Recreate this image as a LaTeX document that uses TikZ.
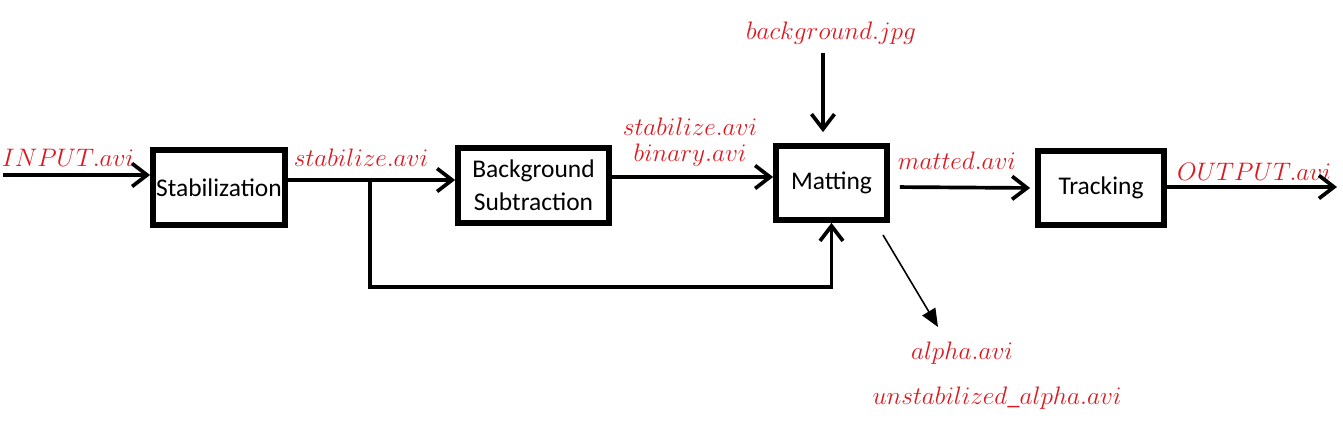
\documentclass[tikz,border=0pt]{standalone}
\usepackage{fontspec}
\setmainfont{Carlito}
\usepackage{xcolor}
\usepackage{tikz}
\usetikzlibrary{arrows.meta,positioning,calc}
\definecolor{lblred}{RGB}{222,24,32}

\begin{document}
\begin{tikzpicture}[x=0.02cm,y=-0.02cm,>={Straight Barb[length=0.3cm,width=0.46cm]},
			line width=2.1pt]
			\tikzstyle{block}=[draw=black,line width=3.3pt,fill=white,font=\fontsize{14.5}{17}\selectfont,align=center,inner sep=0pt]
			\tikzstyle{file}=[text=lblred,font=\fontsize{14}{17}\selectfont,inner sep=0pt]
			\tikzstyle{flow}=[->]
			\useasboundingbox (0,0) rectangle (1343,439);
			% blocks
			\node[block, minimum width=2.64cm, minimum height=1.50cm]    (stab) at (219,187.5)   {Stabilization};
			\node[block, minimum width=3.02cm, minimum height=1.50cm]    (bgs)  at (533.5,185.5) {Background\\[2pt]Subtraction};
			\node[block, minimum width=2.22cm, minimum height=1.48cm]    (mat)  at (831.5,183)   {Matting};
			\node[block, minimum width=2.52cm, minimum height=1.48cm]    (trk)  at (1101,188)    {Tracking};
			% file names
			\node[file]    (fin)    at (68,158)   {$INPUT.avi$};
			\node[file]    (fstab)  at (361,158)  {$stabilize.avi$};
			\node[file]    (fstab2) at (690,127)  {$stabilize.avi$};
			\node[file]    (fbin)   at (690,155)  {$binary.avi$};
			\node[file]    (fmat)   at (957,161)  {$matted.avi$};
			\node[file]    (fout)   at (1254,172) {$OUTPUT.avi$};
			\node[file]    (fbg)    at (831,33)   {$background.jpg$};
			\node[file]    (falpha) at (962,353)  {$alpha.avi$};
			\node[file]    (funst)  at (997,398)  {$unstabilized\_alpha.avi$};
			% free ends
			\coordinate (in)  at (3,175);
			\coordinate (br)  at (370,180);
			\coordinate (bgt) at (823,53);
			\coordinate (out) at (1337,187);
			\coordinate (ast) at (883,235);
			\coordinate (aen) at (938,327);
			
			\draw[flow] (in) -- (in -| stab.west);
			\draw[flow] (br -| stab.east) -- (br -| bgs.west);
			\draw[flow] (br) |- (370,287) -| (mat.south);
			\draw[flow] ($(bgs.east)+(0,-8.5)$) -- ($(mat.west)+(0,-6)$);
			\draw[flow, shorten >=0.22cm] (bgt) -- (bgt |- mat.north);
			\draw[flow, shorten <=0.2cm, shorten >=0.1cm] ($(mat.east)+(0,4)$) -- (trk.west);
			\draw[flow] (trk.east |- out) -- (out);
			\draw[-{Triangle[length=0.36cm,width=0.3cm]}, line width=0.9pt] (ast) -- (aen);
			
\end{tikzpicture}
\end{document}
